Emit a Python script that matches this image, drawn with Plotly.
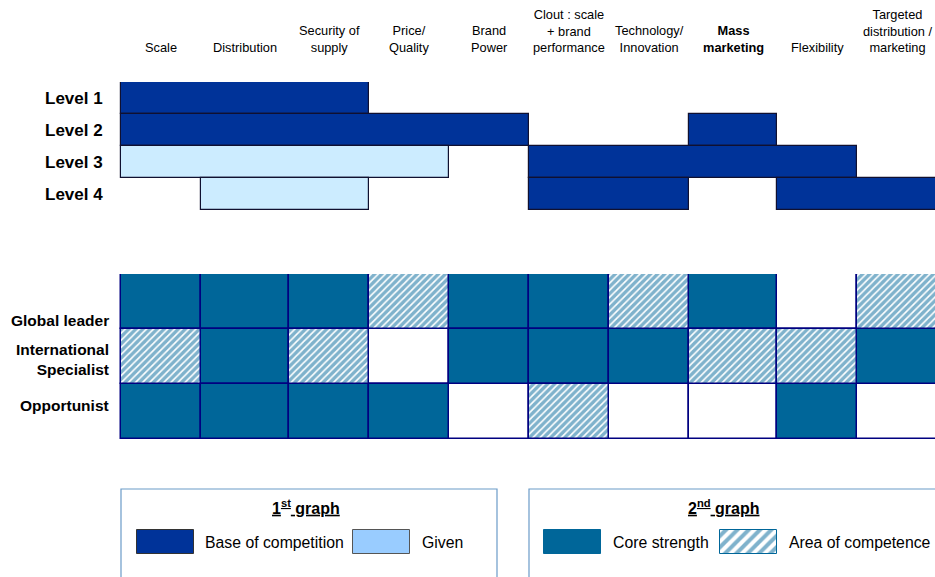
import plotly.graph_objects as go

# ---- data -------------------------------------------------------------
CATEGORIES = ["Scale", "Distribution", "Security of\nsupply", "Price/\nQuality",
              "Brand\nPower", "Clout : scale\n+ brand\nperformance",
              "Technology/\nInnovation", "Mass\nmarketing", "Flexibility",
              "Targeted\ndistribution /\nmarketing"]
HIGHLIGHTED = ["Mass\nmarketing"]

LEVELS = ["Level 1", "Level 2", "Level 3", "Level 4"]
# B = base of competition, G = given, "" = not relevant (one code per category)
LEVEL_1 = ["B", "B", "B", "", "", "", "", "", "", ""]
LEVEL_2 = ["B", "B", "B", "B", "B", "", "", "B", "", ""]
LEVEL_3 = ["G", "G", "G", "G", "", "B", "B", "B", "B", ""]
LEVEL_4 = ["", "G", "G", "", "", "B", "B", "", "B", "B"]

PROFILES = ["Global leader", "International\nSpecialist", "Opportunist"]
# C = core strength, A = area of competence, "" = neither
GLOBAL_LEADER = ["C", "C", "C", "A", "C", "C", "A", "C", "", "A"]
INTL_SPECIALIST = ["A", "C", "A", "", "C", "C", "C", "A", "A", "C"]
OPPORTUNIST = ["C", "C", "C", "C", "", "A", "", "", "C", ""]

# ---- layout constants ---------------------------------------------------
W, H = 935, 577
X0 = 121
COL_W = [80, 88, 80, 80, 80, 80, 80, 88, 80, 80]
FONT = "Arial, Liberation Sans, sans-serif"

DARK = "#003399"
LIGHT = "#CCECFF"
LIGHT_KEY = "#99CCFF"
CORE = "#006699"
GRID_LINE = "#000080"
BOX_LINE = "#6B9BC8"

edges = [X0]
for w in COL_W:
    edges.append(edges[-1] + w)
lefts = edges[:-1]
centers = [(a + b) / 2 for a, b in zip(edges[:-1], edges[1:])]


def runs(codes):
    """Merge consecutive identical codes into (code, first, last) spans."""
    out, i = [], 0
    while i < len(codes):
        j = i
        while j + 1 < len(codes) and codes[j + 1] == codes[i]:
            j += 1
        if codes[i]:
            out.append((codes[i], i, j))
        i = j + 1
    return out


fig = go.Figure()

# ---- first graph: levels ----------------------------------------------
level_rows = [LEVEL_1, LEVEL_2, LEVEL_3, LEVEL_4]
spans = {"B": ([], [], []), "G": ([], [], [])}
for r, codes in enumerate(level_rows):
    for code, a, b in runs(codes):
        ys, bases, lens = spans[code]
        ys.append(r)
        bases.append(edges[a])
        lens.append(edges[b + 1] - edges[a])

for code, color, name in [("B", DARK, "Base of competition"), ("G", LIGHT, "Given")]:
    ys, bases, lens = spans[code]
    fig.add_trace(go.Bar(
        orientation="h", y=ys, base=bases, x=lens, width=1.0,
        marker=dict(color=color, line=dict(color="#101030", width=1.2)),
        name=name, showlegend=False, hoverinfo="skip",
        xaxis="x", yaxis="y"))

# ---- second graph: profiles ---------------------------------------------
HATCH = dict(shape="/", fgcolor=CORE, bgcolor="white", size=5, solidity=0.68)

profile_rows = [GLOBAL_LEADER, INTL_SPECIALIST, OPPORTUNIST]
cells = {"C": ([], [], []), "A": ([], [], []), "": ([], [], [])}
for r, codes in enumerate(profile_rows):
    for c, code in enumerate(codes):
        ys, bases, lens = cells[code]
        ys.append(r)
        bases.append(lefts[c])
        lens.append(COL_W[c])

ys, bases, lens = cells[""]
fig.add_trace(go.Bar(orientation="h", y=ys, base=bases, x=lens, width=1.0,
                     marker=dict(color="white", line=dict(color=GRID_LINE, width=1.5)),
                     showlegend=False, hoverinfo="skip", xaxis="x", yaxis="y2"))
ys, bases, lens = cells["C"]
fig.add_trace(go.Bar(orientation="h", y=ys, base=bases, x=lens, width=1.0,
                     marker=dict(color=CORE, line=dict(color=GRID_LINE, width=1.5)),
                     name="Core strength", showlegend=False, hoverinfo="skip",
                     xaxis="x", yaxis="y2"))
ys, bases, lens = cells["A"]
fig.add_trace(go.Bar(orientation="h", y=ys, base=bases, x=lens, width=1.0,
                     marker=dict(color="white", line=dict(color=GRID_LINE, width=1.5),
                                 pattern=HATCH),
                     name="Area of competence", showlegend=False, hoverinfo="skip",
                     xaxis="x", yaxis="y2"))

# ---- key swatches (page-coordinate overlay axis y3) -----------------------
KEY_Y = 542
keys = [
    (137, DARK, False, "#333333"),
    (353, LIGHT_KEY, False, "#555555"),
    (544, CORE, False, CORE),
    (720, "white", True, CORE),
]
for x0, color, hatched, line in keys:
    mk = dict(color=color, line=dict(color=line, width=1))
    if hatched:
        mk["pattern"] = dict(shape="/", fgcolor=CORE, bgcolor="white", size=8, solidity=0.5)
    fig.add_trace(go.Bar(orientation="h", y=[KEY_Y], base=[x0], x=[57], width=24,
                         marker=mk, showlegend=False, hoverinfo="skip",
                         xaxis="x", yaxis="y3"))

annotations = []

# column headers
for cat, cx in zip(CATEGORIES, centers):
    txt = cat.replace("\n", "<br>")
    if cat in HIGHLIGHTED:
        txt = "<b>" + txt + "</b>"
    annotations.append(dict(x=cx, xref="x", y=1 - 57 / H, yref="paper",
                            text=txt, showarrow=False, xanchor="center",
                            yanchor="bottom", align="center",
                            font=dict(size=12.8, color="black", family=FONT)))

# level labels
for r, lab in enumerate(LEVELS):
    annotations.append(dict(x=105 / W, xref="paper", y=r, yref="y",
                            text="<b>" + lab + "</b>", showarrow=False,
                            xanchor="right", yanchor="middle",
                            font=dict(size=17, color="black", family=FONT)))

# profile labels
shifts = [-19, -3, 6]
for r, (lab, sh) in enumerate(zip(PROFILES, shifts)):
    annotations.append(dict(x=111 / W, xref="paper", y=r, yref="y2",
                            text="<b>" + lab.replace("\n", "<br>") + "</b>",
                            showarrow=False, xanchor="right", yanchor="middle",
                            align="right", yshift=sh,
                            font=dict(size=15.5, color="black", family=FONT)))

# key texts
key_font = dict(size=15.8, color="black", family=FONT)
for x, t in [(203, "Base of competition"), (420, "Given"),
             (611, "Core strength"), (787, "Area of competence")]:
    annotations.append(dict(x=x, xref="x", y=KEY_Y, yref="y3", text=t,
                            showarrow=False, xanchor="left", yanchor="middle",
                            font=key_font))
for x, t in [(306, "<b><u>1<sup>st</sup> graph</u></b>"),
             (723, "<b><u>2<sup>nd</sup> graph</u></b>")]:
    annotations.append(dict(x=x, xref="x", y=507, yref="y3", text=t,
                            showarrow=False, xanchor="center", yanchor="middle",
                            font=dict(size=16, color="black", family=FONT)))

shapes = [
    dict(type="rect", xref="x", yref="y3", x0=121, x1=497, y0=489, y1=600,
         line=dict(color=BOX_LINE, width=1.2), fillcolor="rgba(0,0,0,0)", layer="below"),
    dict(type="rect", xref="x", yref="y3", x0=529, x1=960, y0=489, y1=600,
         line=dict(color=BOX_LINE, width=1.2), fillcolor="rgba(0,0,0,0)", layer="below"),
]

hidden = dict(visible=False, showgrid=False, zeroline=False, fixedrange=True)
fig.update_layout(
    width=W, height=H,
    margin=dict(l=0, r=0, t=0, b=0),
    paper_bgcolor="white", plot_bgcolor="rgba(0,0,0,0)",
    barmode="overlay", bargap=0,
    xaxis=dict(range=[0, W], domain=[0, 1], **hidden),
    yaxis=dict(range=[3.5, -0.5], domain=[1 - 210 / H, 1 - 82 / H], **hidden),
    yaxis2=dict(range=[2.5, -0.5], domain=[1 - 439 / H, 1 - 274 / H], **hidden),
    yaxis3=dict(range=[H, 0], domain=[0, 1], **hidden),
    annotations=annotations, shapes=shapes,
    font=dict(family=FONT),
)

fig.write_html("out.html")
